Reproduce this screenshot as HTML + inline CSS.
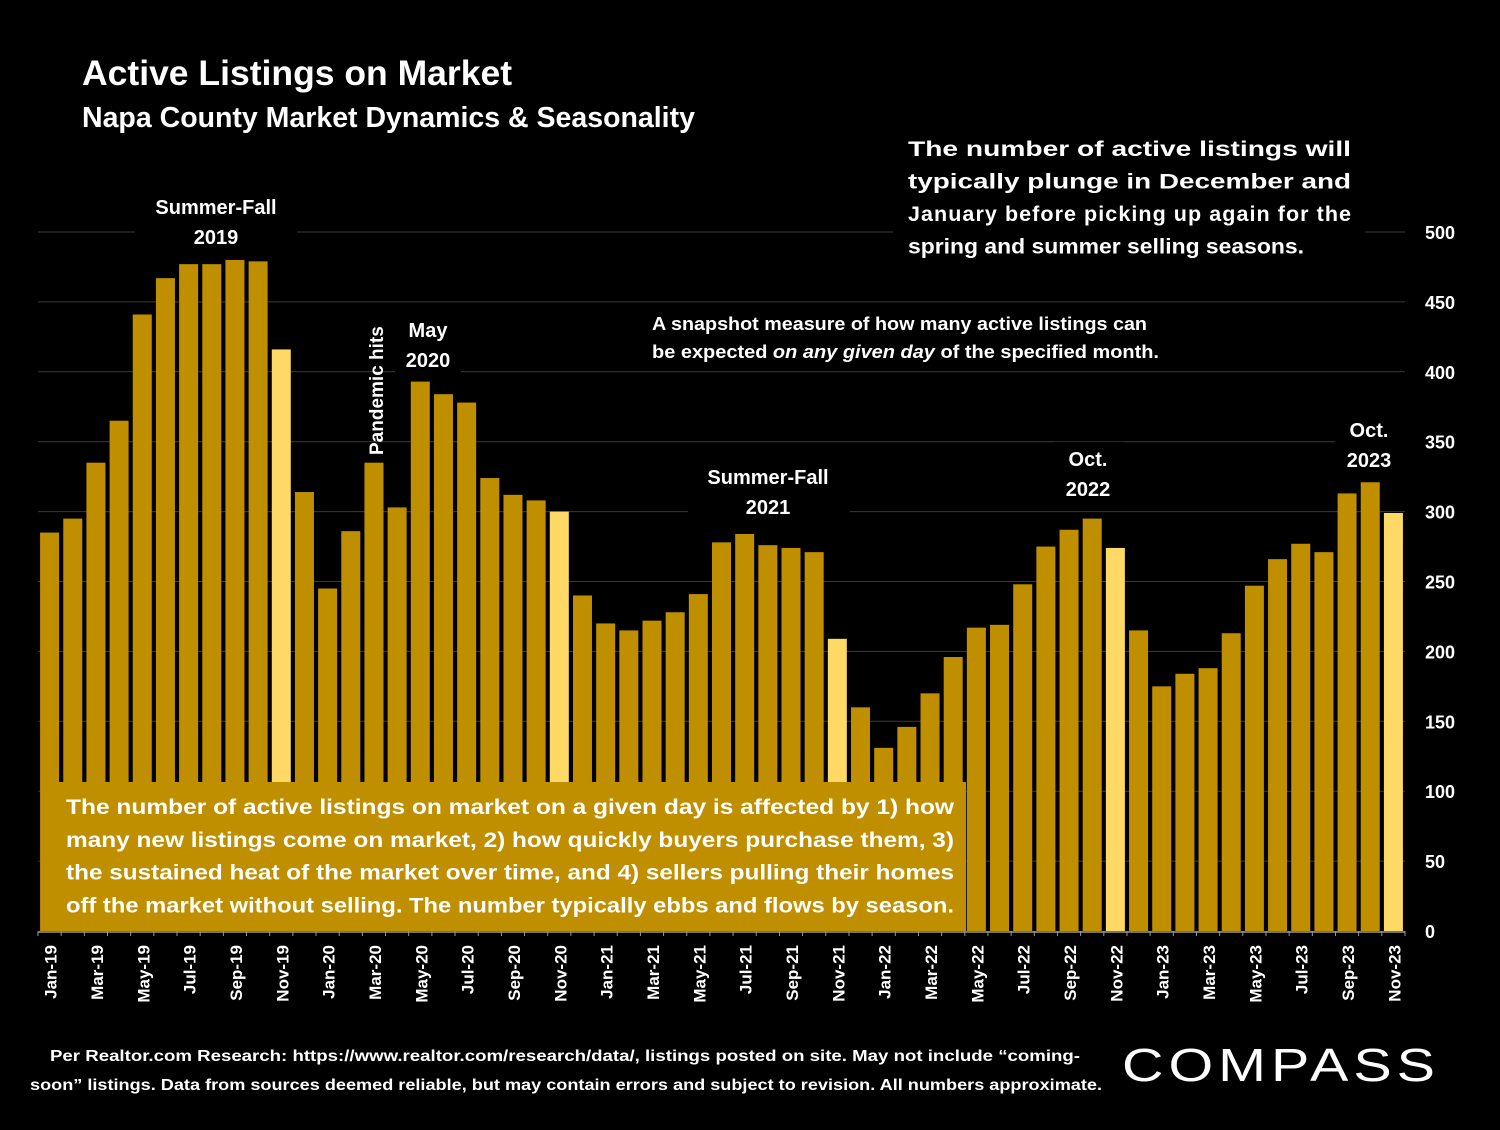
<!DOCTYPE html>
<html><head><meta charset="utf-8"><style>
body{margin:0;background:#000;}
svg text{font-family:"Liberation Sans",sans-serif;font-weight:bold;fill:#fff;}
</style></head><body>
<svg id="c" width="1500" height="1125" xmlns="http://www.w3.org/2000/svg">
<rect width="1500" height="1125" fill="#000"/>
<text x="82" y="85" font-size="35.5">Active Listings on Market</text>
<text x="82" y="127" font-size="28.5">Napa County Market Dynamics &amp; Seasonality</text>
<g id="grid"></g><g id="bars"></g><g id="axes"></g><g id="ann"></g>
</svg>
<script>
const months=["Jan","Feb","Mar","Apr","May","Jun","Jul","Aug","Sep","Oct","Nov","Dec"];
const categories=[];for(let y=19;y<=23;y++)for(let m=0;m<12;m++){if(y===23&&m===11)break;categories.push(months[m]+"-"+y);}
const values=[285,295,335,365,441,467,477,477,480,479,416,314,
245,286,335,303,393,384,378,324,312,308,300,240,
220,215,222,228,241,278,284,276,274,271,209,160,
131,146,170,196,217,219,248,275,287,295,274,215,
175,184,188,213,247,266,277,271,313,321,299];
const yTicks=[0,50,100,150,200,250,300,350,400,450,500];
const NS="http://www.w3.org/2000/svg";
const x0=38,x1=1405,y0=931,yTop=232;
const step=(x1-x0)/categories.length;
const yS=v=>y0-(v/500)*(y0-yTop);
const xS=i=>x0+step*(i+0.5);
function mk(t,a,p){const e=document.createElementNS(NS,t);for(const k in a)e.setAttribute(k,a[k]);p.appendChild(e);return e;}
const grid=document.getElementById('grid'),bars=document.getElementById('bars'),axes=document.getElementById('axes'),ann=document.getElementById('ann');
yTicks.forEach(v=>{
 if(v>0){const l=mk('line',{x1:x0,x2:x1,y1:yS(v),y2:yS(v),stroke:'#3a3a3a','stroke-width':1},grid);
 
 }
 const t=mk('text',{x:1425,y:yS(v)+7,'font-size':18},axes);t.textContent=v;
 
 
});
values.forEach((v,i)=>{
 const light=categories[i].startsWith('Nov');
 const r=mk('rect',{x:xS(i)-9.5,y:yS(v),width:19,height:y0-yS(v),fill:light?'#FFD966':'#BF8F00'},bars);
 
 
});
mk('line',{x1:x0,x2:x1,y1:y0+1,y2:y0+1,stroke:'#999','stroke-width':1.5},axes);
for(let i=0;i<=categories.length;i++)mk('line',{x1:x0+step*i,x2:x0+step*i,y1:y0,y2:y0+5,stroke:'#999'},axes);
categories.forEach((c,i)=>{if(i%2)return;
 const t=mk('text',{transform:`translate(${xS(i)+7},945) rotate(-90)`,'text-anchor':'end','font-size':17},axes);t.textContent=c;
 
 
});
function label(lines,cx,y,bg,name){
 const g=mk('g',{},ann);
 if(bg)mk('rect',bg,g);
 lines.forEach((s,k)=>{const t=mk('text',{x:cx,y:y+k*30,'text-anchor':'middle','font-size':20},g);t.textContent=s;});
}
label(["Summer-Fall","2019"],216,214,{x:135,y:190,width:162,height:64,fill:'#000'},'annotation-summer-fall-2019');
label(["May","2020"],428,337,{x:395,y:313,width:66,height:62,fill:'#000'},'annotation-may-2020');
label(["Summer-Fall","2021"],768,484,{x:688,y:460,width:162,height:62,fill:'#000'},'annotation-summer-fall-2021');
label(["Oct.","2022"],1088,466,{x:1054,y:442,width:70,height:62,fill:'#000'},'annotation-oct-2022');
label(["Oct.","2023"],1369,437,{x:1335,y:412,width:70,height:62,fill:'#000'},'annotation-oct-2023');
(function(){const t=mk('text',{transform:'translate(383,455) rotate(-90)','font-size':19},ann);t.textContent='Pandemic hits';
})();
(function(){const g=mk('g',{},ann);
mk('rect',{x:893,y:130,width:472,height:140,fill:'#000'},g);
const L=["The  number  of  active  listings  will","typically   plunge   in   December   and","January before picking up again for the","spring and summer selling seasons."];
L.forEach((s,k)=>{const t=mk('text',{x:908,y:156+k*32.5,'font-size':21.5},g);t.textContent=s;if(k<3){t.setAttribute('textLength',443);t.setAttribute('lengthAdjust',k<2?'spacingAndGlyphs':'spacing');}else{t.setAttribute('textLength',396);t.setAttribute('lengthAdjust','spacingAndGlyphs');}});})();
(function(){const g=mk('g',{},ann);
mk('rect',{x:640,y:305,width:530,height:62,fill:'#000'},g);
const t1=mk('text',{x:652,y:330,'font-size':18,textLength:495,lengthAdjust:'spacingAndGlyphs'},g);t1.textContent='A snapshot measure of how many active listings can';
const t2=mk('text',{x:652,y:358,'font-size':18,textLength:507,lengthAdjust:'spacingAndGlyphs'},g);t2.innerHTML='be expected <tspan font-style="italic">on any given day</tspan> of the specified month.';})();
(function(){const g=mk('g',{},ann);
mk('rect',{x:58,y:782,width:908,height:149,fill:'#BF8F00'},g);
const L=["The number of active listings on market on a given day is affected by 1) how","many new listings come on market, 2) how quickly buyers purchase them, 3)","the sustained heat of the market over time, and 4) sellers pulling their homes","off the market without selling. The number typically ebbs and flows by season."];
L.forEach((s,k)=>{const t=mk('text',{x:66,y:814+k*32.8,'font-size':21.5,textLength:888,lengthAdjust:'spacingAndGlyphs'},g);t.textContent=s;});})();
(function(){const g=mk('g',{},ann);
const t1=mk('text',{x:50,y:1061,'font-size':16,textLength:1030,lengthAdjust:'spacingAndGlyphs'},g);t1.textContent='Per Realtor.com Research:  https://www.realtor.com/research/data/, listings posted on site. May not include “coming-';
const t2=mk('text',{x:30,y:1090,'font-size':16,textLength:1072,lengthAdjust:'spacingAndGlyphs'},g);t2.textContent='soon” listings. Data from sources deemed reliable, but may contain errors and subject to revision. All numbers approximate.';})();
(function(){const t=mk('text',{x:1122,y:1081,'font-size':46,style:'font-weight:normal;letter-spacing:4px',textLength:318,lengthAdjust:'spacingAndGlyphs'},ann);t.textContent='COMPASS';
})();
</script>
</body></html>
